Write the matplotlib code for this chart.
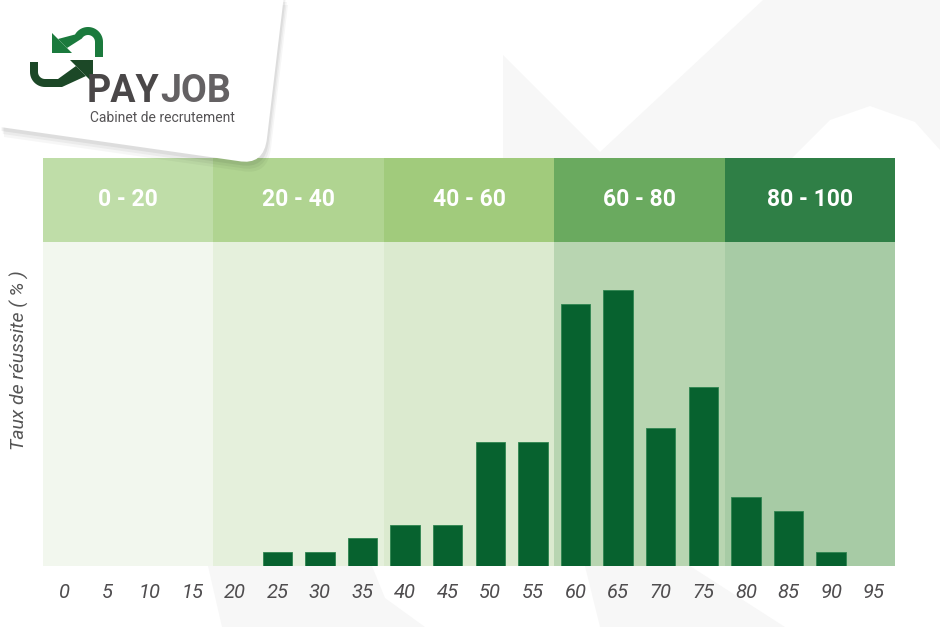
import matplotlib
matplotlib.use("Agg")
import matplotlib.pyplot as plt
from matplotlib.patches import Polygon, PathPatch
from matplotlib.path import Path
import numpy as np

# données : taux de réussite (%) par score
scores = [0, 5, 10, 15, 20, 25, 30, 35, 40, 45, 50, 55, 60, 65, 70, 75, 80, 85, 90, 95]
taux = [0, 0, 0, 0, 0, 1, 1, 2, 3, 3, 9, 9, 19, 20, 10, 13, 5, 4, 1, 0]
score_labels = [str(s) for s in scores]

tranches = ["0 - 20", "20 - 40", "40 - 60", "60 - 80", "80 - 100"]
tranche_bornes = [0, 20, 40, 60, 80, 100]

header_colors = ["#bfdda8", "#b0d491", "#a1cb7c", "#6aaa5f", "#2f7f46"]
body_colors = ["#f2f7ee", "#e5f0dc", "#dbeacf", "#b8d5b1", "#a7cba5"]
bar_color = "#07622f"
text_gray = "#4f4d4f"

plt.rcParams["font.family"] = ["Roboto", "DejaVu Sans"]

W, H = 940, 627
fig = plt.figure(figsize=(W / 100, H / 100), dpi=100)
fig.patch.set_facecolor("white")

# fond : filigrane gris clair (coordonnées pixels)
bg = fig.add_axes([0, 0, 1, 1], zorder=0)
bg.set_xlim(0, W)
bg.set_ylim(H, 0)
bg.axis("off")
wm = "#f7f7f7"
bg.add_patch(Polygon([(503, 55), (600, 152), (763, 0), (940, 0), (940, 150), (915, 122),
                      (870, 106), (830, 120), (790, 160), (503, 160)], closed=True,
                     facecolor=wm, edgecolor="none"))
bg.add_patch(Polygon([(208, 566), (372, 566), (385, 598), (425, 627), (222, 627)],
                     closed=True, facecolor=wm, edgecolor="none"))
bg.add_patch(Polygon([(585, 566), (690, 566), (785, 627), (600, 627)],
                     closed=True, facecolor=wm, edgecolor="none"))

# graphique principal
x0, x1 = 43, 895
y_top, y_bot, y_head = 242, 566, 158
ax = fig.add_axes([x0 / W, (H - y_bot) / H, (x1 - x0) / W, (y_bot - y_top) / H], zorder=2)
hax = fig.add_axes([x0 / W, (H - y_top) / H, (x1 - x0) / W, (y_top - y_head) / H], zorder=2)

for i, lab in enumerate(tranches):
    lo, hi = tranche_bornes[i] - 2.5, tranche_bornes[i + 1] - 2.5
    ax.axvspan(lo, hi, color=body_colors[i], lw=0, zorder=0)
    hax.axvspan(lo, hi, color=header_colors[i], lw=0, zorder=0)
    hax.text((lo + hi) / 2, 0.5, lab, ha="center", va="center", color="white",
             fontsize=16.5, fontweight="bold")

ax.bar(scores, taux, width=3.45, color=bar_color, edgecolor="#2f8550",
       linewidth=[0.6 if t > 0 else 0 for t in taux], zorder=3)

for a in (ax, hax):
    a.set_xlim(-2.5, 97.5)
    for s in a.spines.values():
        s.set_visible(False)
hax.set_ylim(0, 1)
hax.set_xticks([])
hax.set_yticks([])

ax.set_ylim(0, 23.5)
ax.set_yticks([])
ax.set_xticks(scores)
ax.set_xticklabels(score_labels, fontsize=14.5, style="italic", color=text_gray)
ax.tick_params(axis="x", length=0, pad=12)
ax.set_ylabel("Taux de réussite ( % )", fontsize=14, style="italic", color="#555555")
ax.yaxis.set_label_coords(-0.016, 0.636)

# carte du logo
top = fig.add_axes([0, 0, 1, 1], zorder=10)
top.set_xlim(0, W)
top.set_ylim(H, 0)
top.axis("off")
top.patch.set_alpha(0)

verts = [(0, -5), (284, -5), (267, 138), (264, 166), (238, 161), (0, 127), (0, -5)]
codes = [Path.MOVETO, Path.LINETO, Path.LINETO, Path.CURVE3, Path.CURVE3, Path.LINETO, Path.CLOSEPOLY]
for k, a in zip([10, 7, 4], [0.035, 0.045, 0.06]):
    sv = [(vx + k * 0.4, vy + k) for vx, vy in verts]
    top.add_patch(PathPatch(Path(sv, codes), facecolor="#000000", alpha=a, edgecolor="none"))
top.add_patch(PathPatch(Path(verts, codes), facecolor="white", edgecolor="none"))

# pictogramme : deux flèches
light_g, dark_g = "#1b7a3d", "#1c4827"
cx, cy, ro, ri = 88, 42, 15, 7
ang = np.radians(np.linspace(150, 0, 30))
outer = [(cx + ro * np.cos(a_), cy - ro * np.sin(a_)) for a_ in ang]
inner = [(cx + ri * np.cos(a_), cy - ri * np.sin(a_)) for a_ in ang[::-1]]
shape = outer + [(cx + ro, 57), (cx + ri, 57)] + inner + [(67, 48), (58, 39)]
top.add_patch(Polygon(shape, closed=True, facecolor=light_g, edgecolor="none"))
top.add_patch(Polygon([(52, 33), (52, 53), (72, 53)], closed=True, facecolor=light_g, edgecolor="none"))

ang2 = np.radians(np.linspace(180, 270, 15))
bx, by = 45, 72
outer2 = [(bx + 15 * np.cos(a_), by - 15 * np.sin(a_)) for a_ in ang2]
inner2 = [(bx + 7 * np.cos(a_), by - 7 * np.sin(a_)) for a_ in ang2[::-1]]
dark = [(30, 62), (38, 62)] + inner2[::-1] + [(58, 79), (76, 66), (86, 76), (62, 87)] + outer2[::-1]
top.add_patch(Polygon(dark, closed=True, facecolor=dark_g, edgecolor="none"))
top.add_patch(Polygon([(70, 60), (93, 60), (93, 83)], closed=True, facecolor=dark_g, edgecolor="none"))

pay = top.text(87, 102, "PAY", fontsize=27, fontweight="bold", color="#4a4748",
               ha="left", va="baseline")
top.annotate("JOB", xy=(1, 0), xycoords=pay, xytext=(0.5, 0), textcoords="offset points",
             fontsize=27, fontweight="bold", color="#646163", ha="left", va="bottom")
top.text(90, 122, "Cabinet de recrutement", fontsize=10, color="#555355",
         ha="left", va="baseline")

fig.savefig("out.png", dpi=100, facecolor="white")
